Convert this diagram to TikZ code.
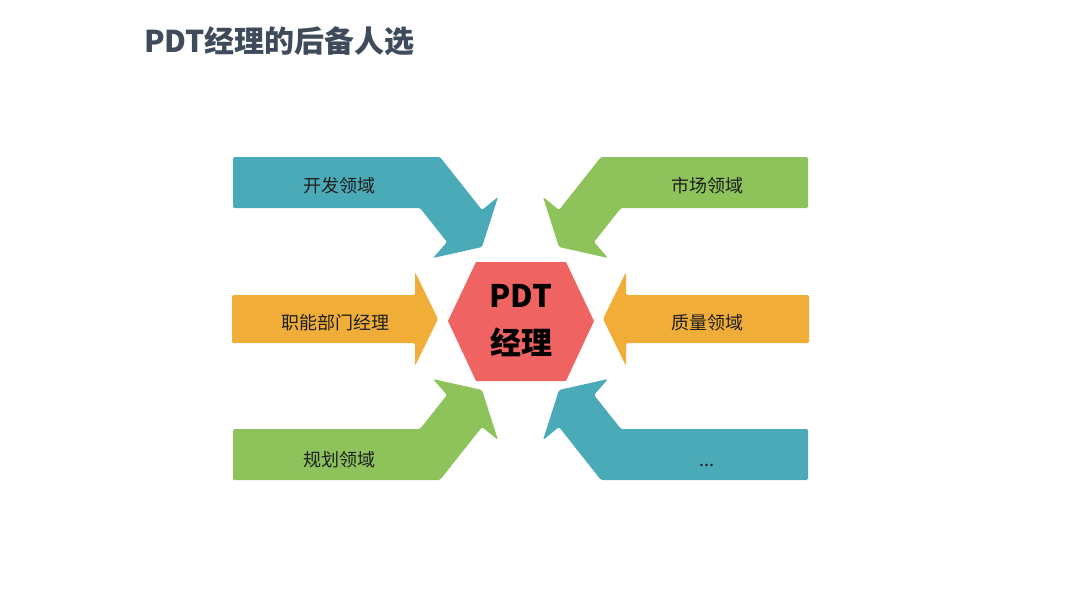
\documentclass[tikz,border=0pt]{standalone}
\usepackage{fontspec}
\newfontfamily\cjk{Noto Sans CJK SC}
\definecolor{cteal}{HTML}{4BAAB7}
\definecolor{cgreen}{HTML}{8DC35A}
\definecolor{corange}{HTML}{F0AE38}
\definecolor{cred}{HTML}{EF6363}
\definecolor{ctitle}{HTML}{3F4B5B}
\definecolor{ctext}{HTML}{1E1E1E}
\tikzset{
  arrowshape/.style={rounded corners=1.5pt},
  lab/.style={font=\cjk\fontsize{18}{20}\selectfont, text=ctext, inner sep=0pt},
}
\begin{document}
\begin{tikzpicture}[x=1pt,y=-1pt]
\useasboundingbox (0,0) rectangle (1080,608);
\fill[white] (0,0) rectangle (1080,608);
\node[anchor=west, font=\cjk\bfseries\fontsize{30}{34}\selectfont, text=ctitle, inner sep=0pt] (title) at (144,41) {PDT经理的后备人选};
% arrows
\fill[cteal, arrowshape] (233,157) -- (440,157) -- (482,210) -- (498,197) -- (482,247) -- (433,258) -- (447,242) -- (420,208) -- (233,208) -- cycle;
\fill[cgreen, arrowshape] (808,157) -- (601,157) -- (559,210) -- (543,197) -- (559,247) -- (608,258) -- (594,242) -- (621,208) -- (808,208) -- cycle;
\fill[cgreen, arrowshape] (233,480) -- (440,480) -- (482,427) -- (498,440) -- (482,390) -- (433,379) -- (447,395) -- (420,429) -- (233,429) -- cycle;
\fill[cteal, arrowshape] (808,480) -- (601,480) -- (559,427) -- (543,440) -- (559,390) -- (608,379) -- (594,395) -- (621,429) -- (808,429) -- cycle;
\fill[corange, arrowshape] (232,295) -- (415,295) -- (415,272) -- (438,319) -- (415,366) -- (415,343) -- (232,343) -- cycle;
\fill[corange, arrowshape] (809,295) -- (626,295) -- (626,272) -- (603,319) -- (626,366) -- (626,343) -- (809,343) -- cycle;
% hexagon
\fill[cred] (476,262) -- (566,262) -- (594,321) -- (566,381) -- (476,381) -- (448,321) -- cycle;
\node[align=center, font=\cjk\bfseries\fontsize{31}{47}\selectfont, text=black, inner sep=0pt] (hex) at (521,321) {PDT\\经理};
% labels
\node[lab] (kf) at (339,186) {开发领域};
\node[lab] (sc) at (707,186) {市场领域};
\node[lab] (zn) at (335,323) {职能部门经理};
\node[lab] (zl) at (707,323) {质量领域};
\node[lab] (gh) at (339,460) {规划领域};
\node[lab, anchor=base] (dots) at (707,466) {...};
\end{tikzpicture}
\end{document}
